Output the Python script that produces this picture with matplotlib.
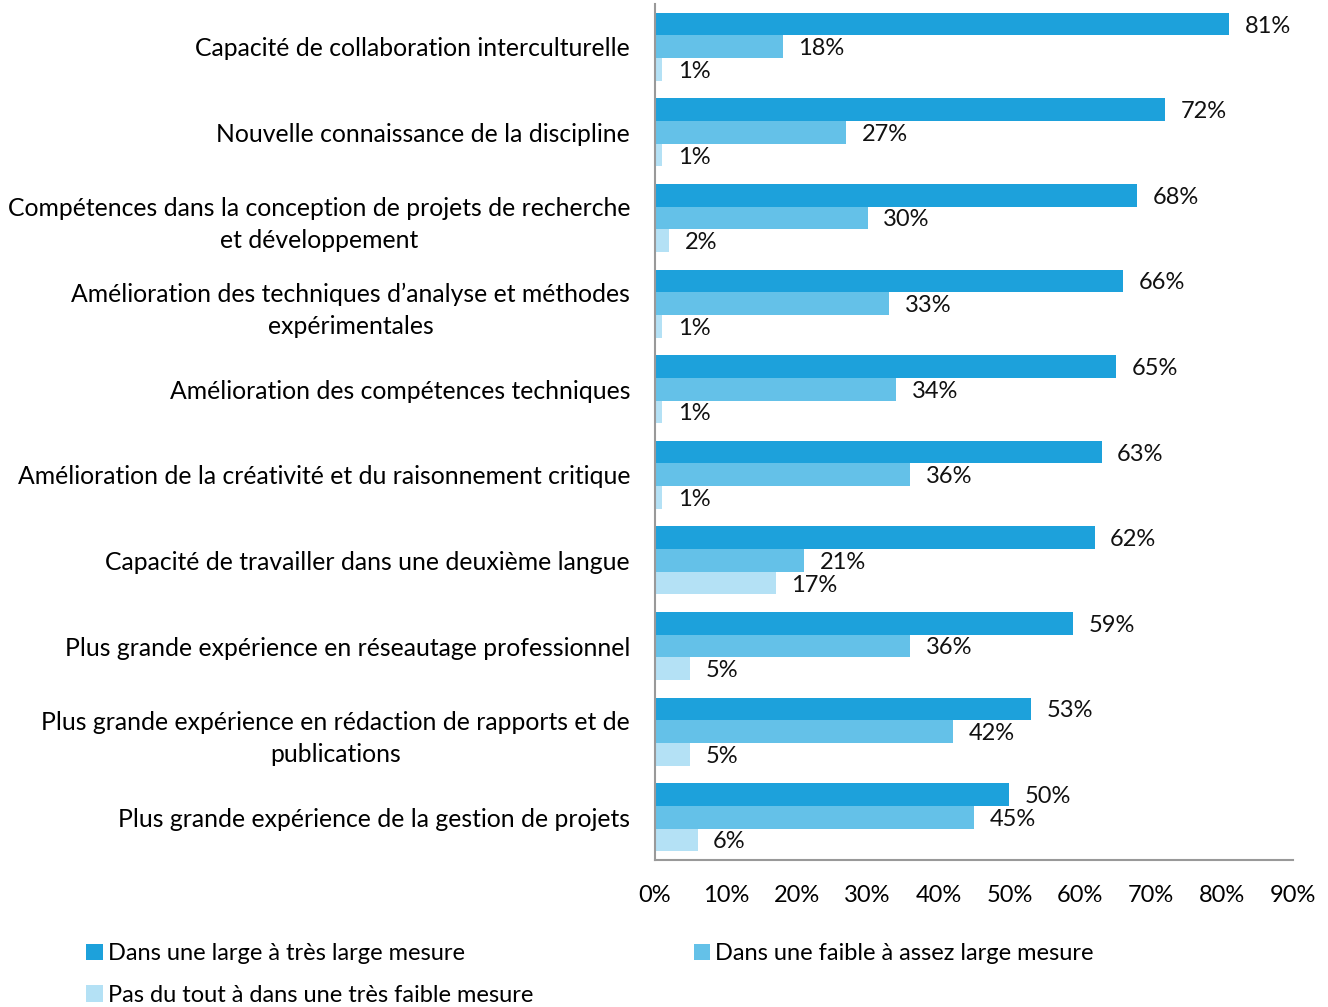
import matplotlib
matplotlib.use("Agg")
import matplotlib.pyplot as plt
import numpy as np
from matplotlib.patches import Patch

plt.rcParams['font.family'] = ['Lato', 'DejaVu Sans']

categories = [
    "Capacité de collaboration interculturelle",
    "Nouvelle connaissance de la discipline",
    "Compétences dans la conception de projets de recherche\net développement",
    "Amélioration des techniques d’analyse et méthodes\nexpérimentales",
    "Amélioration des compétences techniques",
    "Amélioration de la créativité et du raisonnement critique",
    "Capacité de travailler dans une deuxième langue",
    "Plus grande expérience en réseautage professionnel",
    "Plus grande expérience en rédaction de rapports et de\npublications",
    "Plus grande expérience de la gestion de projets",
]
large = [81, 72, 68, 66, 65, 63, 62, 59, 53, 50]
faible = [18, 27, 30, 33, 34, 36, 21, 36, 42, 45]
pas = [1, 1, 2, 1, 1, 1, 17, 5, 5, 6]
series_names = [
    "Dans une large à très large mesure",
    "Dans une faible à assez large mesure",
    "Pas du tout à dans une très faible mesure",
]
colors = ["#1DA1DB", "#64C1E8", "#B4E1F5"]
xticks = [0, 10, 20, 30, 40, 50, 60, 70, 80, 90]

fig = plt.figure(figsize=(13.28, 10.07), dpi=100)
ax = fig.add_axes([655/1328, 1-860/1007, (1293-655)/1328, 856/1007])

n = len(categories)
y = np.arange(n)
h = 0.265
for i, (vals, c) in enumerate(zip([large, faible, pas], colors)):
    pos = y + (i - 1) * h
    ax.barh(pos, vals, height=h, color=c, edgecolor='none')
    for p, v in zip(pos, vals):
        ax.text(v + 2.2, p, f"{v}%", va='center_baseline', ha='left', fontsize=17, color='#111111')

ax.set_ylim(n - 0.5, -0.5)
ax.set_xlim(0, 90)
ax.set_xticks(xticks)
ax.set_xticklabels([f"{t}%" for t in xticks], fontsize=17)
ax.tick_params(axis='x', length=0, pad=18)
ax.set_yticks(y)
ax.set_yticklabels(categories, fontsize=17.8, multialignment='center', linespacing=1.5)
ax.tick_params(axis='y', length=0, pad=18)
for s in ['top', 'right']:
    ax.spines[s].set_visible(False)
for s in ['left', 'bottom']:
    ax.spines[s].set_color('#999999')
    ax.spines[s].set_linewidth(1.5)

order = [0, 2, 1]
handles = [Patch(facecolor=colors[k], edgecolor='none') for k in order]
labels = [series_names[k] for k in order]
fig.legend(handles, labels, loc='upper left', bbox_to_anchor=(77/1328, 1-934/1007),
           ncol=2, frameon=False, fontsize=17, handlelength=0.7, handleheight=0.7,
           handletextpad=0.2, columnspacing=6.8, labelspacing=0.85, borderaxespad=0)

fig.savefig("out.png", dpi=100)
